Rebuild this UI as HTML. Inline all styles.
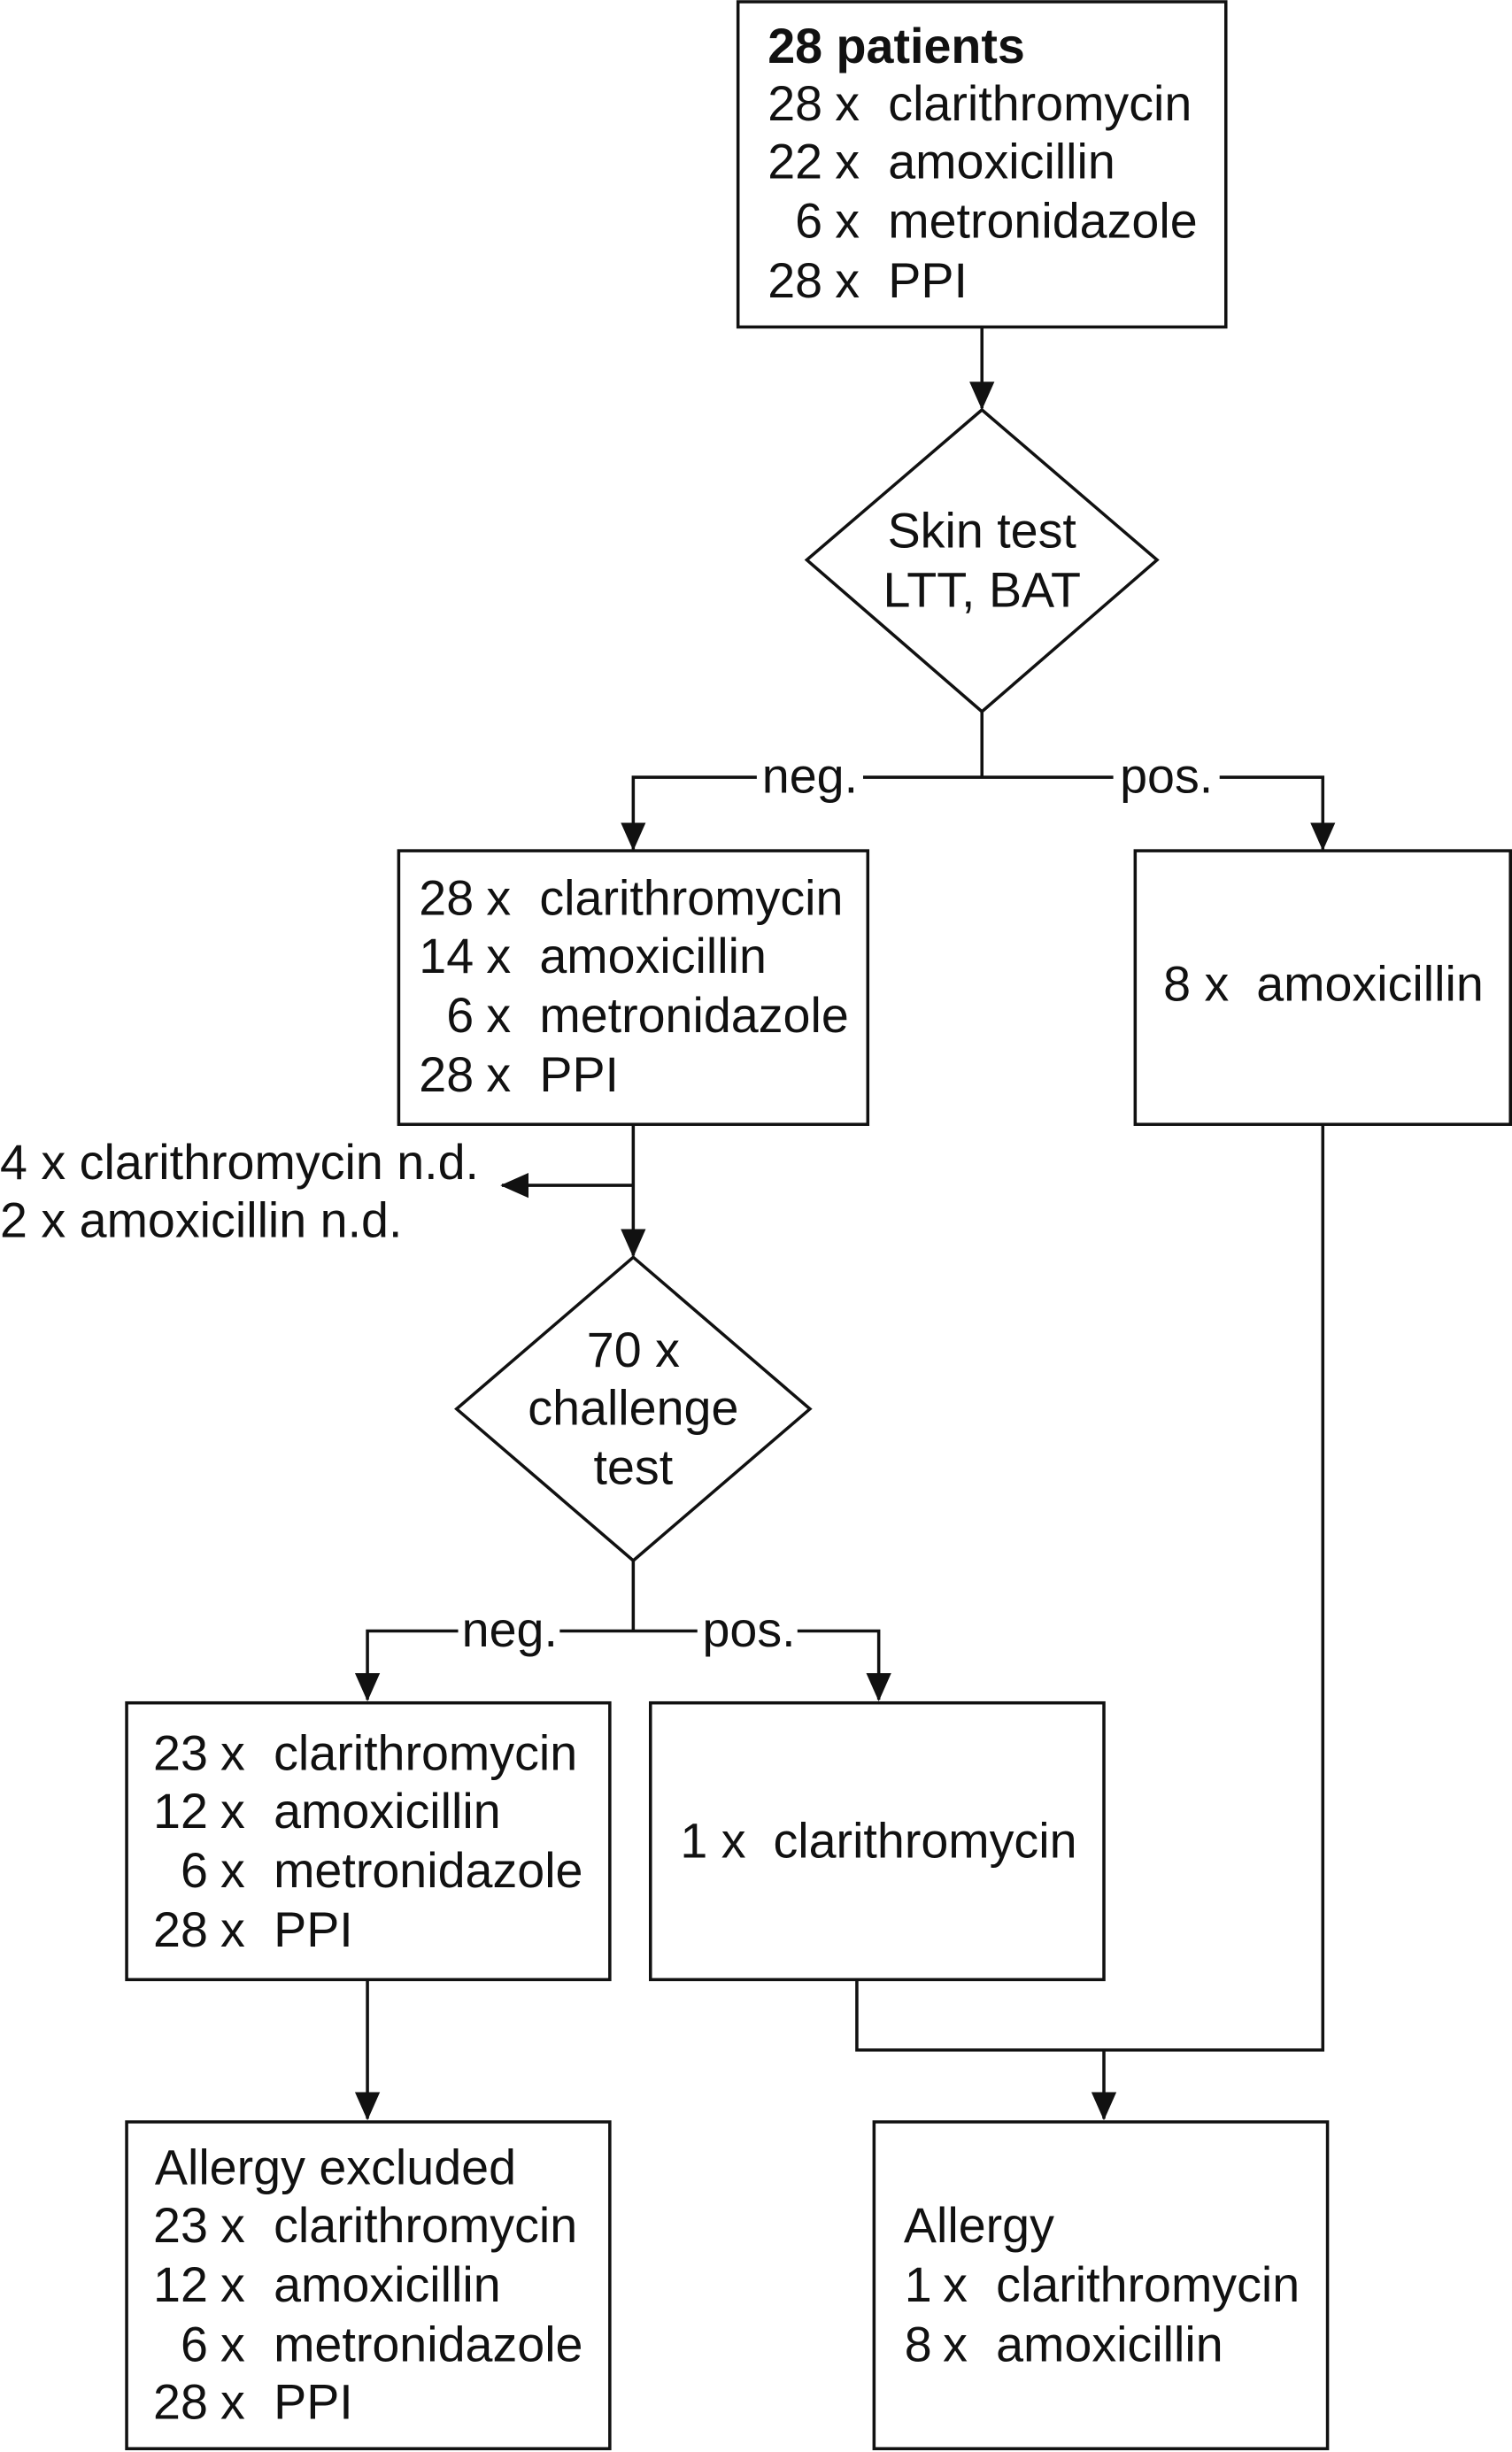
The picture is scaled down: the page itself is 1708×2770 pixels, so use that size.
<!DOCTYPE html>
<html><head><meta charset="utf-8"><style>
html,body{margin:0;padding:0;background:#fff}
svg{display:block}
text{font-family:"Liberation Sans",Arial,sans-serif;font-size:31.5px;fill:#111;white-space:pre}
</style></head><body>
<svg width="1708" height="2770" viewBox="0 0 967 1568" xmlns="http://www.w3.org/2000/svg">
<defs>
<marker id="b" markerWidth="18" markerHeight="18" refX="17" refY="8" orient="auto" markerUnits="userSpaceOnUse" viewBox="0 0 18 16"><path d="M0,0 L18,8 L0,16 z" fill="#111"/></marker></defs>
<g fill="none" stroke="#111" stroke-width="2">
<rect x="472" y="1" width="312" height="208"/>
<polygon points="628,262 740,358 628,455 516,358"/>
<rect x="255" y="544" width="300" height="175"/>
<rect x="726" y="544" width="240" height="175"/>
<polygon points="405,804 518,901 405,998 292,901"/>
<rect x="81" y="1089" width="309" height="177"/>
<rect x="416" y="1089" width="290" height="177"/>
<rect x="81" y="1357" width="309" height="209"/>
<rect x="559" y="1357" width="290" height="209"/>
<path d="M628,209 V261" marker-end="url(#b)"/>
<path d="M628,455 V497"/>
<path d="M484,497 H405 V543" marker-end="url(#b)"/>
<path d="M552,497 H712"/>
<path d="M780,497 H846 V543" marker-end="url(#b)"/>
<path d="M405,719 V803" marker-end="url(#b)"/>
<path d="M405,758 H321" marker-end="url(#b)"/>
<path d="M405,998 V1043"/>
<path d="M293,1043 H235 V1087" marker-end="url(#b)"/>
<path d="M358,1043 H446"/>
<path d="M510,1043 H562 V1087" marker-end="url(#b)"/>
<path d="M235,1266 V1355" marker-end="url(#b)"/>
<path d="M548,1266 V1311 H846 V719"/>
<path d="M706,1311 V1355" marker-end="url(#b)"/>
</g>
<text x="491" y="40" font-weight="bold">28 patients</text>
<g text-anchor="end"><text x="526" y="77">28</text><text x="526" y="114">22</text><text x="526" y="152">6</text><text x="526" y="190">28</text>
<text x="303" y="585">28</text><text x="303" y="622">14</text><text x="303" y="660">6</text><text x="303" y="698">28</text>
<text x="133" y="1132">23</text><text x="133" y="1169">12</text><text x="133" y="1207">6</text><text x="133" y="1245">28</text>
<text x="133" y="1434">23</text><text x="133" y="1472">12</text><text x="133" y="1510">6</text><text x="133" y="1547">28</text>
<text x="596" y="1472">1</text><text x="596" y="1510">8</text></g>
<text x="534" y="77">x</text><text x="534" y="114">x</text><text x="534" y="152">x</text><text x="534" y="190">x</text>
<text x="568" y="77">clarithromycin</text><text x="568" y="114">amoxicillin</text><text x="568" y="152">metronidazole</text><text x="568" y="190">PPI</text>
<text x="311" y="585">x</text><text x="311" y="622">x</text><text x="311" y="660">x</text><text x="311" y="698">x</text>
<text x="345" y="585">clarithromycin</text><text x="345" y="622">amoxicillin</text><text x="345" y="660">metronidazole</text><text x="345" y="698">PPI</text>
<text x="141" y="1132">x</text><text x="141" y="1169">x</text><text x="141" y="1207">x</text><text x="141" y="1245">x</text>
<text x="175" y="1132">clarithromycin</text><text x="175" y="1169">amoxicillin</text><text x="175" y="1207">metronidazole</text><text x="175" y="1245">PPI</text>
<text x="99" y="1397">Allergy excluded</text>
<text x="141" y="1434">x</text><text x="141" y="1472">x</text><text x="141" y="1510">x</text><text x="141" y="1547">x</text>
<text x="175" y="1434">clarithromycin</text><text x="175" y="1472">amoxicillin</text><text x="175" y="1510">metronidazole</text><text x="175" y="1547">PPI</text>
<text x="578" y="1434">Allergy</text>
<text x="603" y="1472">x</text><text x="603" y="1510">x</text>
<text x="637" y="1472">clarithromycin</text><text x="637" y="1510">amoxicillin</text>
<text x="744" y="640">8 x  amoxicillin</text>
<text x="435" y="1188">1 x  clarithromycin</text>
<g text-anchor="middle">
<text x="628" y="350">Skin test</text><text x="628" y="388">LTT, BAT</text>
<text x="518" y="507">neg.</text><text x="746" y="507">pos.</text>
<text x="405" y="874">70 x</text><text x="405" y="911">challenge</text><text x="405" y="949">test</text>
<text x="326" y="1053">neg.</text><text x="479" y="1053">pos.</text>
</g>
<text x="0" y="754">4 x clarithromycin n.d.</text>
<text x="0" y="791">2 x amoxicillin n.d.</text>
</svg>
</body></html>
